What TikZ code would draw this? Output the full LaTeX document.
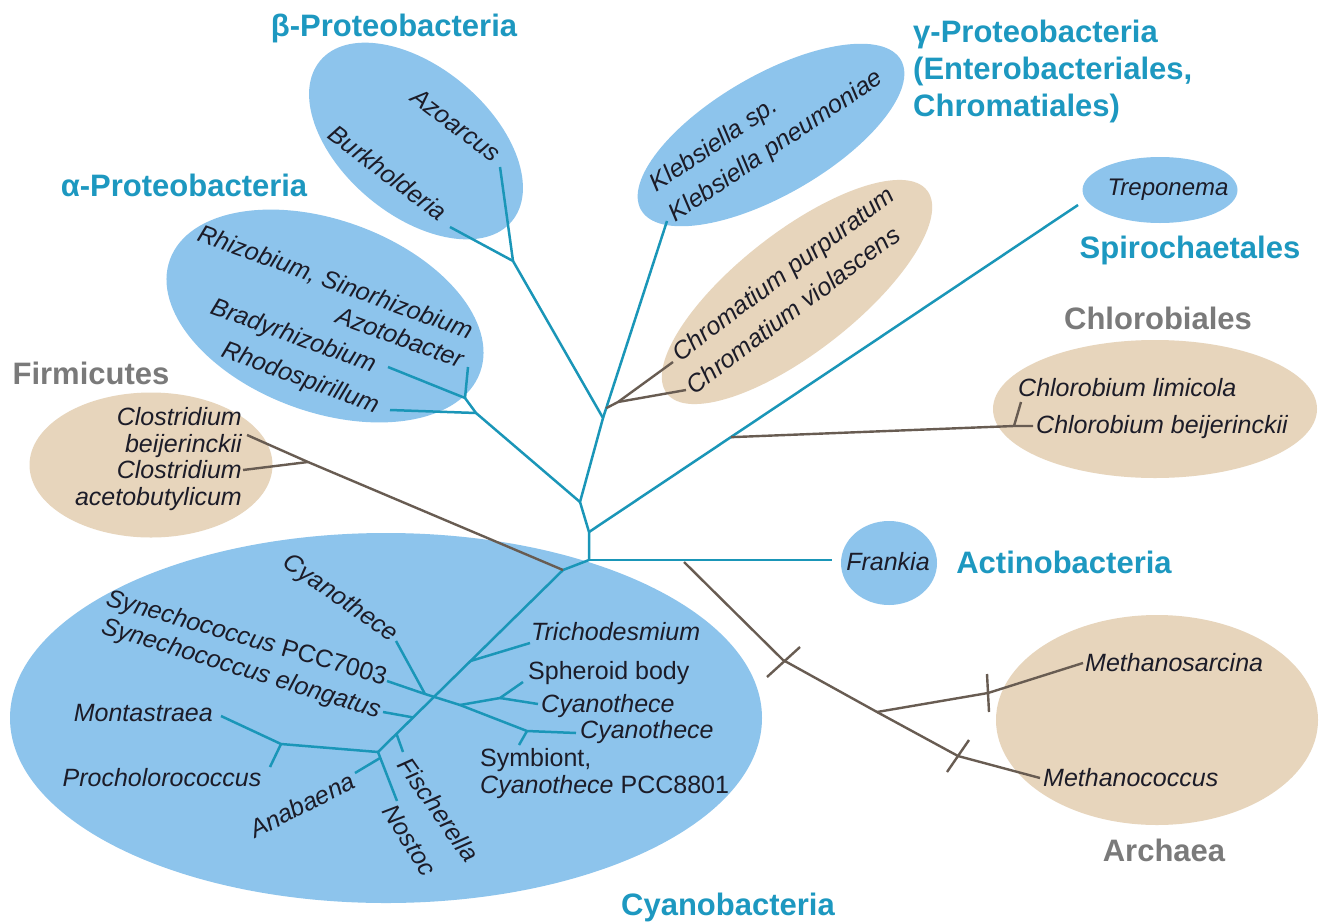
\documentclass[tikz,border=0pt]{standalone}
\usepackage{fontspec}
\setmainfont{Liberation Sans}
\usetikzlibrary{shapes.geometric,calc}
\definecolor{blobblue}{RGB}{141,196,236}
\definecolor{blobtan}{RGB}{231,213,188}
\definecolor{treeblue}{RGB}{26,150,184}
\definecolor{cladeblue}{RGB}{29,152,192}
\definecolor{cladegrey}{RGB}{122,122,122}
\definecolor{branchgrey}{RGB}{104,92,82}
\definecolor{ink}{RGB}{28,28,40}

\begin{document}
\begin{tikzpicture}[x=1pt,y=-1pt,
  blob/.style={ellipse,fill=blobblue},
  tanblob/.style={ellipse,fill=blobtan},
  bluebranch/.style={treeblue,line width=2.5pt},
  greybranch/.style={branchgrey,line width=2.4pt},
  sp/.style={text=ink,font=\fontsize{25}{27}\selectfont\itshape},
  uptext/.style={text=ink,font=\fontsize{25}{27}\selectfont},
  clade/.style={text=cladeblue,font=\fontsize{31}{37}\selectfont\bfseries},
  gclade/.style={text=cladegrey,font=\fontsize{31}{37}\selectfont\bfseries}]
\tikzstyle{every node}+=[inner sep=0pt]
\useasboundingbox[fill=white] (0,0) rectangle (1324,921);

% group blobs
\node[blob, minimum width=250, minimum height=148, rotate=-40] (betaEll) at (416,141) {};
\node[blob, minimum width=330, minimum height=192, rotate=-20] (alphaEll) at (325,316) {};
\node[blob, minimum width=300, minimum height=120, rotate=30] (klebEll) at (771,135) {};
\node[tanblob, minimum width=330, minimum height=120, rotate=38] (chromEll) at (797,292) {};
\node[blob, minimum width=155, minimum height=66] (trepEll) at (1160,190) {};
\node[tanblob, minimum width=324, minimum height=138] (chlorEll) at (1155,409) {};
\node[tanblob, minimum width=243, minimum height=145] (firmEll) at (151,465) {};
\node[blob, minimum width=752, minimum height=370] (cyanoEll) at (386,718) {};
\node[blob, minimum width=96, minimum height=84] (frankEll) at (889,563) {};
\node[tanblob, minimum width=322, minimum height=210] (archEll) at (1157,720) {};

% branch points and tips
\coordinate (root) at (589,560);
\coordinate (trep) at (589,532);
\coordinate (alphaJ) at (580,502);
\coordinate (gammaJ) at (603,418);
\coordinate (betaJ) at (513,261);
\coordinate (burkEnd) at (450,227);
\coordinate (azoEnd) at (500,167);
\coordinate (klebEnd) at (667,221);
\coordinate (rhodoJ) at (476,413);
\coordinate (bradyJ) at (465,398);
\coordinate (bradyEnd) at (388,367);
\coordinate (rhodoEnd) at (390,410);
\coordinate (azotoEnd) at (468,367);
\coordinate (trepEnd) at (1078,205);
\coordinate (frankEnd) at (832,560);

\coordinate (chromJ) at ($(gammaJ)!0.05!(klebEnd)$);
\coordinate (chromK) at (618,402);
\coordinate (purEnd) at (673,362);
\coordinate (vioEnd) at (686,390);
\coordinate (chlorJ) at ($(trep)!0.29!(trepEnd)$);
\coordinate (chlorK) at (1014,426);
\coordinate (beiEnd) at (1033,426);
\coordinate (limEnd) at (1021,402);

\coordinate (cyRoot) at (563,570);
\coordinate (cyEnd) at (378,752);
\coordinate (triJ) at ($(cyRoot)!0.5!(cyEnd)$);
\coordinate (triEnd) at (530,643);
\coordinate (cyAEnd) at (396,641);
\coordinate (synPEnd) at (387,681);
\coordinate (synPJ) at (425,694);
\coordinate (cross) at (460,705);
\coordinate (sphJ) at (500,698);
\coordinate (sphEnd) at (523,682);
\coordinate (cyBEnd) at (538,704);
\coordinate (symJ) at (527,731);
\coordinate (cyCEnd) at (576,733);
\coordinate (symEnd) at (519,745);
\coordinate (eloJ) at ($(cyRoot)!0.81!(cyEnd)$);
\coordinate (eloEnd) at (383,712);
\coordinate (fisJ) at ($(cyRoot)!0.9!(cyEnd)$);
\coordinate (fisEnd) at (403,752);
\coordinate (nosEnd) at (397,801);
\coordinate (anaJ) at ($(cyEnd)!0.12!(nosEnd)$);
\coordinate (anaEnd) at (355,773);
\coordinate (montJ) at (281,744);
\coordinate (montEnd) at (221,716);
\coordinate (proEnd) at (270,767);

\coordinate (firmJ) at (308,462);
\coordinate (firmEnd) at (247,435);
\coordinate (aceEnd) at (243,470);

\coordinate (archS) at (684,562);
\coordinate (archP) at (783,660);
\coordinate (archJ) at (877,712);
\coordinate (cocT) at (958,756);
\coordinate (cocEnd) at (1040,778);
\coordinate (sarT) at (988,693);
\coordinate (sarEnd) at (1083,663);

% proteobacteria side
\draw[bluebranch] (root) -- (trep) -- (alphaJ) -- (gammaJ) -- (betaJ) -- (burkEnd);
\draw[bluebranch] (betaJ) -- (azoEnd);
\draw[bluebranch] (gammaJ) -- (klebEnd);
\draw[bluebranch] (alphaJ) -- (rhodoJ) -- (bradyJ) -- (bradyEnd);
\draw[bluebranch] (rhodoJ) -- (rhodoEnd);
\draw[bluebranch] (bradyJ) -- (azotoEnd);
\draw[bluebranch] (trep) -- (trepEnd);
\draw[bluebranch] (root) -- (frankEnd);
\draw[greybranch] (chromJ) -- (chromK) -- (purEnd);
\draw[greybranch] (chromK) -- (vioEnd);
\draw[greybranch] (chlorJ) -- (chlorK) -- (beiEnd);
\draw[greybranch] (chlorK) -- (limEnd);

% cyanobacteria
\draw[bluebranch] (root) -- (cyRoot) -- (cyEnd);
\draw[bluebranch] (triJ) -- (triEnd);
\draw[bluebranch] (cyAEnd) -- (synPJ);
\draw[bluebranch] (synPEnd) -- (synPJ) -- (cross) -- (symJ) -- (cyCEnd);
\draw[bluebranch] (symJ) -- (symEnd);
\draw[bluebranch] (cross) -- (sphJ) -- (sphEnd);
\draw[bluebranch] (sphJ) -- (cyBEnd);
\draw[bluebranch] (eloEnd) -- (eloJ);
\draw[bluebranch] (fisJ) -- (fisEnd);
\draw[bluebranch] (cyEnd) -- (nosEnd);
\draw[bluebranch] (anaJ) -- (anaEnd);
\draw[bluebranch] (cyEnd) -- (montJ) -- (montEnd);
\draw[bluebranch] (montJ) -- (proEnd);
\draw[greybranch] (cyRoot) -- (firmJ) -- (firmEnd);
\draw[greybranch] (firmJ) -- (aceEnd);

% archaea, with cut marks
\draw[greybranch] (archS) -- (archP) -- (archJ) -- (cocT) -- (cocEnd);
\draw[greybranch] (archJ) -- (sarT) -- (sarEnd);
\draw[greybranch] (767,677) -- (800,647);
\draw[greybranch] (947,772) -- (969,740);
\draw[greybranch] (987,674) -- (989,712);

% species
\node[sp, rotate=-37] (azoarcus) at (456,125) {Azoarcus};
\node[sp, rotate=-37] (burkholderia) at (388,173) {Burkholderia};
\node[sp, rotate=-20] (rhizobium) at (335,283) {Rhizobium, Sinorhizobium};
\node[sp, rotate=-20] (azotobacter) at (400,337) {Azotobacter};
\node[sp, rotate=-20] (bradyrhizobium) at (293,337) {Bradyrhizobium};
\node[sp, rotate=-20] (rhodospirillum) at (300,379) {Rhodospirillum};
\node[sp, rotate=34, anchor=west] (klebsp) at (653,187) {Klebsiella sp.};
\node[sp, rotate=34, anchor=west] (klebpn) at (672,217) {Klebsiella pneumoniae};
\node[sp, rotate=37, anchor=west] (chrompur) at (676,357) {Chromatium purpuratum};
\node[sp, rotate=37, anchor=west] (chromvio) at (689,388) {Chromatium violascens};
\node[sp, font=\fontsize{24}{26}\selectfont\itshape] (treponema) at (1168,190) {Treponema};
\node[sp, anchor=west] (chlorlim) at (1018,388) {Chlorobium limicola};
\node[sp, anchor=west] (chlorbei) at (1036,427) {Chlorobium beijerinckii};
\node[sp] (frankia) at (888,562) {Frankia};
\node[sp, align=right, anchor=east, font=\fontsize{25}{26.5}\selectfont\itshape] (clostr) at (242,459)
  {Clostridium\\beijerinckii\\Clostridium\\acetobutylicum};
\node[sp, anchor=west] (methsar) at (1085,663) {Methanosarcina};
\node[sp, anchor=west] (methcoc) at (1043,778) {Methanococcus};

\node[sp, rotate=-35, anchor=east] (cyanoA) at (395,637) {Cyanothece};
\node[uptext, rotate=-16, anchor=east] (synPCC) at (386,679) {\textit{Synechococcus} PCC7003};
\node[sp, rotate=-17, anchor=east] (synElo) at (380,712) {Synechococcus elongatus};
\node[sp, anchor=east] (montas) at (213,713) {Montastraea};
\node[sp] (prochl) at (162,778) {Procholorococcus};
\node[sp, rotate=27, anchor=east] (anabaena) at (353,779) {Anabaena};
\node[sp, rotate=-55, anchor=west] (fischer) at (404,760) {Fischerella};
\node[sp, rotate=-58, anchor=west] (nostoc) at (389,807) {Nostoc};
\node[sp, anchor=west] (tricho) at (531,632) {Trichodesmium};
\node[uptext, anchor=west] (spheroid) at (528,673) {Spheroid body};
\node[sp, anchor=west] (cyanoB) at (541,706) {Cyanothece};
\node[sp, anchor=west] (cyanoC) at (580,732) {Cyanothece};
\node[uptext, anchor=west] (symbiont) at (480,760) {Symbiont,};
\node[uptext, anchor=west] (cyanoPCC) at (480,787) {\textit{Cyanothece} PCC8801};

% group names
\node[clade] (betaLab) at (394,28) {β-Proteobacteria};
\node[clade, align=left, anchor=west] (gammaLab) at (913,71) {γ-Proteobacteria\\(Enterobacteriales,\\Chromatiales)};
\node[clade] (alphaLab) at (184,185) {α-Proteobacteria};
\node[clade] (spiroLab) at (1190,250) {Spirochaetales};
\node[gclade] (chlorLab) at (1158,318) {Chlorobiales};
\node[gclade] (firmLab) at (91,373) {Firmicutes};
\node[clade] (actinoLab) at (1064,562) {Actinobacteria};
\node[gclade] (archLab) at (1164,850) {Archaea};
\node[clade] (cyanoLab) at (728,907) {Cyanobacteria};
\end{tikzpicture}
\end{document}
